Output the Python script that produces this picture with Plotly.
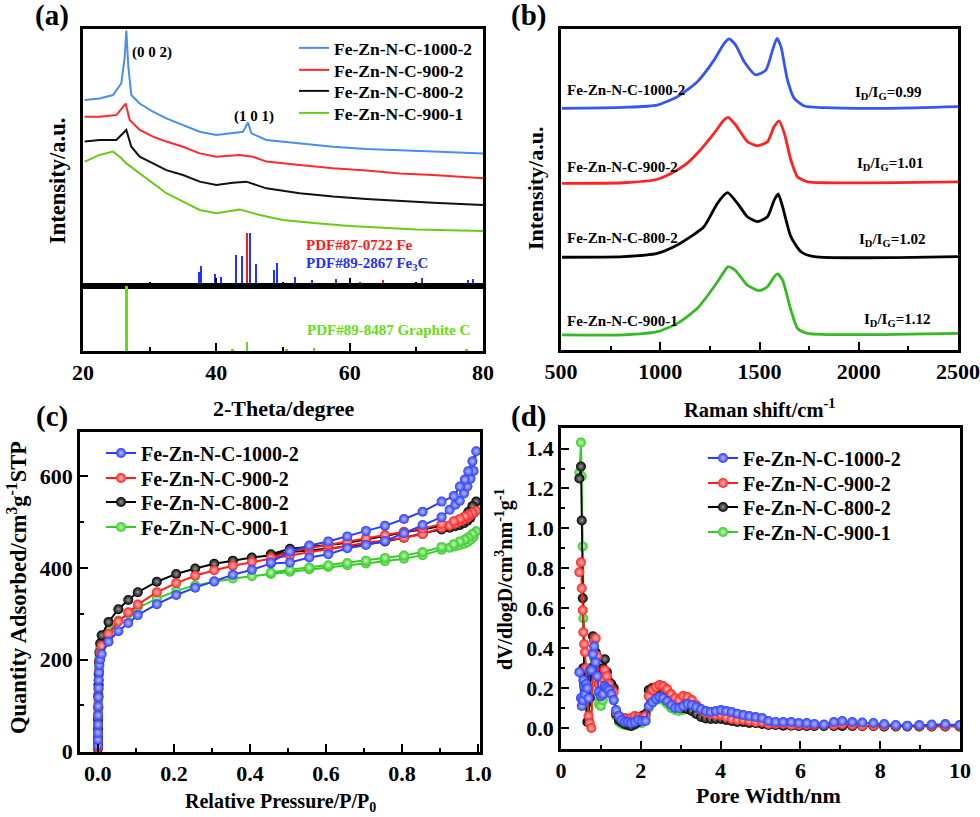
import plotly.graph_objects as go

W, H = 980, 817
def px(x): return x / W
def py(y): return 1 - y / H

SERIF = "Liberation Serif"
TICKFONT = dict(family=SERIF, size=22, color="black", weight="bold")

NAMES = ["Fe-Zn-N-C-1000-2", "Fe-Zn-N-C-900-2", "Fe-Zn-N-C-800-2", "Fe-Zn-N-C-900-1"]

# ---------------- (a) XRD ----------------
xrd_blue_x = [20.25, 22.5, 24.5, 25.75, 26.25, 26.5, 26.8, 27.25, 28.5, 30.5, 32.5, 35, 37.5, 40, 42.5, 44, 44.75, 45.25, 47.5, 52.5, 57.5, 62.5, 67.5, 72.5, 80]
xrd_blue_y = [72.4, 73, 74.3, 78.9, 89, 99.4, 85.3, 74.3, 71, 67.8, 65.2, 62.6, 60, 58.8, 59.4, 60, 63.6, 59.4, 56.8, 55.5, 54.2, 53.3, 52.7, 52.3, 51.6]
xrd_red_x = [20.25, 22.5, 25, 26.4, 27, 28.5, 30.5, 32.5, 35, 37.5, 40, 43.5, 45.5, 47.5, 52.5, 57.5, 62.5, 67.5, 72.5, 80]
xrd_red_y = [65.9, 65.9, 66.5, 71, 64.6, 60.7, 58.1, 56.2, 54.2, 51.6, 50.3, 51, 50.3, 48.4, 47.1, 45.8, 44.9, 43.8, 43.2, 41.9]
xrd_black_x = [20.25, 22.5, 25, 26.5, 27.25, 28.5, 30.5, 32.5, 35, 37.5, 40, 42.5, 44.5, 47.5, 52.5, 57.5, 62.5, 67.5, 72.5, 80]
xrd_black_y = [56.2, 56.8, 56.8, 60.7, 54.2, 50.3, 47.7, 45.1, 43.2, 40.6, 39.3, 40.2, 40.6, 38, 36.1, 34.8, 33.9, 33.1, 32.4, 31.5]
xrd_green_x = [20.25, 22.5, 24.5, 25.5, 26.5, 28.5, 30.5, 32.5, 35, 37.5, 40, 43.5, 46.5, 50, 55, 60, 65, 70, 80]
xrd_green_y = [48.4, 51, 52.3, 50.3, 47.7, 43.8, 39.9, 36.1, 32.8, 29.6, 28.3, 29.8, 27.6, 25.7, 24.4, 23.3, 22.7, 22, 21.4]

fe3c_pos = [23.5, 35.2, 37.4, 37.7, 39.8, 40.7, 42.9, 43.8, 45.1, 45.9, 48.6, 49.1, 51.8, 54.4, 56.0, 58.0, 61.5, 66.8, 70.8, 75.7, 77.7, 78.5]
fe3c_int = [0.5, 0.8, 5.6, 7.8, 4.7, 3.4, 12.1, 11.7, 20.8, 8.4, 6.2, 8.8, 3.4, 2.3, 1.3, 2.7, 1.7, 0.5, 3.0, 0.8, 2.3, 2.6]
fe_pos = [44.6, 65.0]
fe_int = [20.8, 2.3]
graphite_pos = [26.5, 42.4, 44.6, 50.5, 54.6, 77.5]
graphite_int = [100, 3, 14.6, 3, 4, 3]

# ---------------- (b) Raman ----------------
raman_blue_x = [505, 816, 985, 1086, 1187, 1271, 1322, 1347, 1380, 1423, 1481, 1532, 1566, 1588, 1608, 1641, 1675, 1726, 1827, 2163, 2500]
raman_blue_y = [75.3, 75.6, 76.3, 78.9, 83.6, 90.3, 95.5, 96.9, 95, 89.8, 85.7, 87.2, 93.5, 97.1, 94.5, 84.1, 78.4, 76, 75.5, 75.3, 75.8]
raman_red_x = [505, 816, 985, 1086, 1136, 1187, 1271, 1322, 1342, 1380, 1439, 1490, 1540, 1574, 1599, 1625, 1658, 1692, 1742, 1827, 2500]
raman_red_y = [51.9, 52.1, 53.2, 56.1, 58.2, 61.3, 67.5, 71.7, 72.5, 70.1, 64.9, 63.6, 64.9, 69.6, 71.4, 67.5, 59.2, 53.9, 52.4, 52.1, 52.4]
raman_black_x = [505, 816, 985, 1086, 1153, 1220, 1288, 1338, 1389, 1439, 1490, 1540, 1574, 1594, 1616, 1658, 1709, 1776, 2500]
raman_black_y = [28.9, 29.1, 30.1, 32.7, 35.3, 38.4, 45.7, 49, 45.7, 41.5, 40, 41.5, 46.7, 48.6, 44.7, 35.3, 30.6, 29.1, 29.1]
raman_green_x = [505, 816, 985, 1086, 1187, 1271, 1322, 1342, 1380, 1439, 1498, 1540, 1574, 1591, 1616, 1658, 1692, 1742, 2500]
raman_green_y = [4.7, 4.7, 5.7, 8.3, 13, 19.7, 24.4, 26, 24.7, 20.2, 18.5, 19.7, 22.8, 23.7, 21.8, 12.5, 6.7, 5.2, 5.2]
idig_labels = ["I<sub>D</sub>/I<sub>G</sub>=0.99", "I<sub>D</sub>/I<sub>G</sub>=1.01",
               "I<sub>D</sub>/I<sub>G</sub>=1.02", "I<sub>D</sub>/I<sub>G</sub>=1.12"]

# ---------------- (c) N2 isotherms ----------------
iso_p = [0.0001, 0.0002, 0.0003, 0.0005, 0.0007, 0.001, 0.0013, 0.0017, 0.0022, 0.003, 0.004, 0.006, 0.01,
         0.028, 0.054, 0.08, 0.105, 0.155, 0.206, 0.256, 0.306, 0.355, 0.405, 0.455,
         0.505, 0.556, 0.606, 0.656, 0.705, 0.755, 0.805, 0.854, 0.904, 0.925, 0.94, 0.952, 0.963, 0.972, 0.98, 0.988, 0.995,
         0.985, 0.974, 0.965, 0.952, 0.936, 0.904, 0.854, 0.805, 0.755, 0.705, 0.656, 0.606, 0.556, 0.505, 0.455]
iso_blue = [12, 25, 40, 58, 78, 98, 118, 138, 155, 172, 188, 200, 212,
            239, 262, 280, 297, 321, 341, 357, 371, 385, 396, 410,
            412, 423, 430, 443, 450, 459, 476, 494, 511, 527, 538, 547, 563, 578, 595, 612, 655,
            633, 611, 593, 578, 557, 545, 523, 507, 492, 481, 469, 458, 449, 436, 412]
iso_red = [8, 20, 35, 55, 75, 95, 115, 135, 155, 175, 195, 215, 230,
           256, 283, 303, 320, 347, 367, 383, 395, 405, 413, 420,
           427, 434, 441, 448, 455, 460, 466, 474, 488, 493, 497, 502, 506, 510, 515, 520, 525,
           521, 516, 512, 507, 502, 496, 486, 479, 472, 465, 458, 451, 444, 436, 422]
iso_black = [5, 15, 30, 50, 70, 95, 120, 145, 170, 195, 215, 235, 253,
             282, 310, 330, 347, 370, 387, 399, 409, 416, 423, 428,
             435, 438, 442, 447, 452, 458, 466, 475, 484, 488, 491, 494, 498, 503, 510, 520, 545,
             535, 522, 512, 505, 500, 492, 484, 478, 470, 462, 455, 450, 446, 442, 430]
iso_green = [10, 25, 45, 65, 85, 105, 125, 145, 165, 185, 205, 225, 240,
             262, 285, 300, 313, 333, 350, 362, 370, 377, 382, 387,
             392, 397, 402, 406, 410, 415, 420, 428, 440, 444, 447, 450, 453, 456, 461, 468, 480,
             474, 467, 462, 458, 452, 446, 435, 427, 422, 416, 411, 406, 401, 396, 390]

# ---------------- (d) pore size distribution ----------------
pore_w = [0.46, 0.50, 0.52, 0.545, 0.56, 0.58, 0.60, 0.63, 0.66, 0.69,
          0.72, 0.76, 0.80, 0.83, 0.87, 0.91, 0.95, 1.00, 1.05, 1.10,
          1.15, 1.20, 1.26, 1.32, 1.38, 1.45, 1.52, 1.60, 1.68, 1.76,
          1.85, 1.94, 2.03, 2.12, 2.20, 2.29, 2.38, 2.47, 2.56, 2.66,
          2.76, 2.86, 2.96, 3.06, 3.17, 3.28, 3.39, 3.51, 3.63, 3.75,
          3.88, 4.01, 4.14, 4.28, 4.42, 4.57, 4.72, 4.88, 5.04, 5.20,
          5.38, 5.57, 5.77, 5.96, 6.16, 6.35, 6.59, 6.84, 7.05, 7.30,
          7.55, 7.83, 8.10, 8.39, 8.68, 8.98, 9.29, 9.63, 9.99]
psd_blue = [0.28, 0.15, 0.11, 0.14, 0.24, 0.21, 0.17, 0.22, 0.20, 0.15,
            0.29, 0.29, 0.37, 0.41, 0.33, 0.26, 0.18, 0.16, 0.17, 0.21,
            0.20, 0.19, 0.17, 0.14, 0.09, 0.06, 0.04, 0.03, 0.03, 0.025,
            0.03, 0.04, 0.035, 0.035, 0.11, 0.13, 0.145, 0.155, 0.15, 0.135,
            0.115, 0.10, 0.10, 0.11, 0.12, 0.115, 0.105, 0.095, 0.085, 0.08,
            0.085, 0.09, 0.085, 0.08, 0.072, 0.065, 0.06, 0.055, 0.05, 0.035,
            0.03, 0.03, 0.03, 0.025, 0.025, 0.02, 0.018, 0.03, 0.035, 0.03,
            0.028, 0.025, 0.02, 0.015, 0.012, 0.015, 0.018, 0.02, 0.015]
psd_red = [0.78, 0.83, 0.70, 0.59, 0.48, 0.42, 0.38, 0.30, 0.15, 0.06,
           0.025, 0.0, 0.29, 0.44, 0.45, 0.36, 0.22, 0.16, 0.25, 0.29,
           0.26, 0.22, 0.19, 0.18, 0.08, 0.06, 0.05, 0.05, 0.045, 0.05,
           0.06, 0.055, 0.05, 0.06, 0.16, 0.19, 0.205, 0.215, 0.21, 0.195,
           0.17, 0.15, 0.14, 0.16, 0.155, 0.14, 0.115, 0.09, 0.075, 0.07,
           0.065, 0.065, 0.055, 0.045, 0.04, 0.04, 0.035, 0.03, 0.03, 0.02,
           0.02, 0.02, 0.015, 0.015, 0.015, 0.015, 0.015, 0.015, 0.02, 0.015,
           0.012, 0.012, 0.012, 0.01, 0.01, 0.01, 0.01, 0.01, 0.01]
psd_black = [1.25, 1.31, 1.04, 0.65, 0.30, 0.25, 0.20, 0.12, 0.03, 0.04,
             0.15, 0.30, 0.46, 0.44, 0.38, 0.28, 0.22, 0.25, 0.30, 0.345,
             0.28, 0.23, 0.22, 0.20, 0.07, 0.04, 0.03, 0.02, 0.015, 0.01,
             0.02, 0.03, 0.06, 0.07, 0.19, 0.20, 0.19, 0.185, 0.18, 0.165,
             0.14, 0.12, 0.11, 0.10, 0.095, 0.085, 0.07, 0.055, 0.048, 0.045,
             0.045, 0.045, 0.04, 0.035, 0.03, 0.03, 0.025, 0.025, 0.02, 0.015,
             0.015, 0.012, 0.012, 0.01, 0.01, 0.01, 0.01, 0.01, 0.01, 0.01,
             0.01, 0.01, 0.008, 0.008, 0.008, 0.008, 0.008, 0.008, 0.008]
psd_green = [1.28, 1.43, 1.26, 0.91, 0.55, 0.30, 0.25, 0.20, 0.15, 0.10,
             0.20, 0.30, 0.38, 0.35, 0.25, 0.16, 0.12, 0.11, 0.14, 0.19,
             0.20, 0.18, 0.17, 0.14, 0.06, 0.03, 0.02, 0.015, 0.012, 0.01,
             0.015, 0.025, 0.025, 0.04, 0.10, 0.125, 0.14, 0.145, 0.14, 0.12,
             0.10, 0.09, 0.085, 0.09, 0.095, 0.09, 0.08, 0.07, 0.06, 0.055,
             0.05, 0.048, 0.045, 0.04, 0.035, 0.03, 0.028, 0.025, 0.022, 0.02,
             0.018, 0.016, 0.015, 0.012, 0.012, 0.01, 0.01, 0.01, 0.01, 0.01,
             0.01, 0.01, 0.008, 0.008, 0.008, 0.008, 0.008, 0.008, 0.008]

# ---------------- colours ----------------
XRD_COLORS = ["#4a8cf0", "#ff2a2a", "#111111", "#66cc11"]
RAMAN_COLORS = ["#3355ff", "#ff2222", "#000000", "#33bb22"]
SPH_COLORS = ["#2a3cff", "#ff1f1f", "#000000", "#33cc22"]
SPH_HILITE = ["#b8c0ff", "#ffc0c0", "#9a9a9a", "#c8f5c0"]

# one single-entry legend per row so the row spacing can follow the reference
LEG_A_ROWS = [48, 70, 91, 113]
LEG_C_ROWS = [453, 478, 502, 527]
LEG_D_ROWS = [458, 483, 507, 532]

fig = go.Figure()
legend_layout = {}
leg_counter = [0]


def new_legend(x_text, y_row, size):
    leg_counter[0] += 1
    key = "legend" if leg_counter[0] == 1 else "legend%d" % leg_counter[0]
    legend_layout[key] = dict(x=px(x_text - 44), y=py(y_row), xanchor="left", yanchor="middle",
                              bgcolor="rgba(0,0,0,0)", borderwidth=0,
                              font=dict(family=SERIF, size=size, color="black", weight="bold"))
    return key


# (a) curves
for i, (xs, ys) in enumerate(zip([xrd_blue_x, xrd_red_x, xrd_black_x, xrd_green_x],
                                 [xrd_blue_y, xrd_red_y, xrd_black_y, xrd_green_y])):
    fig.add_trace(go.Scatter(x=xs, y=ys, mode="lines", name=NAMES[i], line=dict(color=XRD_COLORS[i], width=2),
                             xaxis="x", yaxis="y", legend=new_legend(338, LEG_A_ROWS[i], 17.5)))
fig.add_trace(go.Bar(x=fe3c_pos, y=fe3c_int, width=0.3, marker=dict(color="#2233ff", line_width=0),
                     showlegend=False, xaxis="x", yaxis="y"))
fig.add_trace(go.Bar(x=fe_pos, y=fe_int, width=0.3, marker=dict(color="#ff1a1a", line_width=0),
                     showlegend=False, xaxis="x", yaxis="y"))
fig.add_trace(go.Bar(x=graphite_pos, y=graphite_int, width=0.35, marker=dict(color="#66dd11", line_width=0),
                     showlegend=False, xaxis="x2", yaxis="y2"))

# (b) Raman
for xs, ys, col in zip([raman_blue_x, raman_red_x, raman_black_x, raman_green_x],
                       [raman_blue_y, raman_red_y, raman_black_y, raman_green_y], RAMAN_COLORS):
    fig.add_trace(go.Scatter(x=xs, y=ys, mode="lines", line=dict(color=col, width=2.8, shape="spline", smoothing=0.6),
                             showlegend=False, xaxis="x3", yaxis="y3"))

# (c) isotherms, (d) PSD  (drawn green, black, red, blue so blue sits on top)
iso_sets = [iso_blue, iso_red, iso_black, iso_green]
psd_sets = [psd_blue, psd_red, psd_black, psd_green]
leg_c = [new_legend(145, LEG_C_ROWS[i], 20) for i in range(4)]
leg_d = [new_legend(747, LEG_D_ROWS[i], 20) for i in range(4)]
for i in [3, 2, 1, 0]:
    fig.add_trace(go.Scatter(x=iso_p, y=iso_sets[i], mode="lines+markers", name=NAMES[i],
                             line=dict(color=SPH_COLORS[i], width=2),
                             marker=dict(color=SPH_COLORS[i], size=10, line_width=0,
                                         gradient=dict(type="radial", color=SPH_HILITE[i])),
                             xaxis="x4", yaxis="y4", legend=leg_c[i]))
for i in [3, 2, 1, 0]:
    fig.add_trace(go.Scatter(x=pore_w, y=psd_sets[i], mode="lines+markers", name=NAMES[i],
                             line=dict(color=SPH_COLORS[i], width=1.8),
                             marker=dict(color=SPH_COLORS[i], size=10, line_width=0,
                                         gradient=dict(type="radial", color=SPH_HILITE[i])),
                             xaxis="x5", yaxis="y5", legend=leg_d[i]))


def base_axis(domain, rng, anchor):
    return dict(domain=domain, range=rng, anchor=anchor, showline=True, linewidth=2.6, linecolor="black",
                mirror=True, showgrid=False, zeroline=False, ticks="", showticklabels=False, automargin=False)


def tick_axis(domain, rng, anchor, tick0, dtick, minor_dtick, labels=True, fmt=None):
    d = base_axis(domain, rng, anchor)
    d.update(ticks="inside", ticklen=8, tickwidth=2.2, tickcolor="black", tick0=tick0, dtick=dtick,
             minor=dict(ticks="inside", ticklen=4, tickwidth=2, tickcolor="black", dtick=minor_dtick, tick0=tick0),
             showticklabels=labels, tickfont=TICKFONT)
    if fmt:
        d["tickformat"] = fmt
    return d


xa_dom = [px(83), px(483)]
layout = dict(
    width=W, height=H, autosize=False, margin=dict(l=0, r=0, t=0, b=0, pad=0),
    paper_bgcolor="white", plot_bgcolor="white", barmode="overlay", bargap=0,
    xaxis=tick_axis(xa_dom, [20, 80], "y", 20, 20, 10, labels=False),
    yaxis=base_axis([py(286), py(29)], [0, 100], "x"),
    xaxis2=tick_axis(xa_dom, [20, 80], "y2", 20, 20, 10),
    yaxis2=base_axis([py(351), py(286)], [0, 100], "x2"),
    xaxis3=tick_axis([px(561), px(958)], [500, 2500], "y3", 500, 500, 250),
    yaxis3=base_axis([py(350), py(29)], [0, 100], "x3"),
    xaxis4=tick_axis([px(80), px(480)], [-0.047, 1.005], "y4", 0, 0.2, 0.1, fmt=".1f"),
    yaxis4=tick_axis([py(752), py(432)], [-2, 697], "x4", 0, 200, 100),
    xaxis5=tick_axis([px(561), px(960)], [0, 10], "y5", 0, 2, 1),
    yaxis5=tick_axis([py(749), py(428)], [-0.105, 1.503], "x5", 0, 0.2, 0.1, fmt=".1f"),
    showlegend=True,
)
layout.update(legend_layout)
fig.update_layout(**layout)

ann = []
def text(x, y, s, size, color="black", angle=0, xanchor="center"):
    ann.append(dict(x=px(x), y=py(y), xref="paper", yref="paper", text=s, showarrow=False,
                    textangle=angle, xanchor=xanchor, yanchor="middle",
                    font=dict(family=SERIF, size=size, color=color, weight="bold")))

# panel letters
text(52, 15, "(a)", 29)
text(528, 15, "(b)", 29)
text(52, 417, "(c)", 29)
text(528, 417, "(d)", 29)
# axis titles
text(284, 408, "2-Theta/degree", 22)
text(58, 181, "Intensity/a.u.", 22.5, angle=-90)
text(759, 408, "Raman shift/cm<sup>-1</sup>", 20.5)
text(535, 189, "Intensity/a.u.", 22, angle=-90)
text(280, 802, "Relative Pressure/P/P<sub>0</sub>", 20)
text(17, 588, "Quantity Adsorbed/cm<sup>3</sup>g<sup>-1</sup>STP", 22.5, angle=-90)
text(768, 795, "Pore Width/nm", 22)
text(504, 579, "dV/dlogD/cm<sup>3</sup>nm<sup>-1</sup>g<sup>-1</sup>", 20, angle=-90)
# (a) annotations
text(130, 52, "(0 0 2)", 15, xanchor="left")
text(232, 117, "(1 0 1)", 15, xanchor="left")
text(304, 245, "PDF#87-0722 Fe", 15, color="#ff1a1a", xanchor="left")
text(304, 264, "PDF#89-2867 Fe<sub>3</sub>C", 15, color="#2233ff", xanchor="left")
text(305, 330, "PDF#89-8487 Graphite C", 15, color="#66dd11", xanchor="left")
# (b) labels
for (ly, iy, ix), nm, lab in zip([(90, 93, 853), (167, 164, 855), (238, 240, 857), (321, 320, 862)], NAMES, idig_labels):
    text(565, ly, nm, 15, xanchor="left")
    text(ix, iy, lab, 15, xanchor="left")

fig.update_layout(annotations=ann)
fig.write_html(
    "out.html",
    config={"responsive": False, "displayModeBar": False},
    post_script="document.body.style.margin='0';document.body.style.overflow='hidden';"
                "Plotly.relayout(document.getElementById('{plot_id}'), {width: 980, height: 817});",
)
